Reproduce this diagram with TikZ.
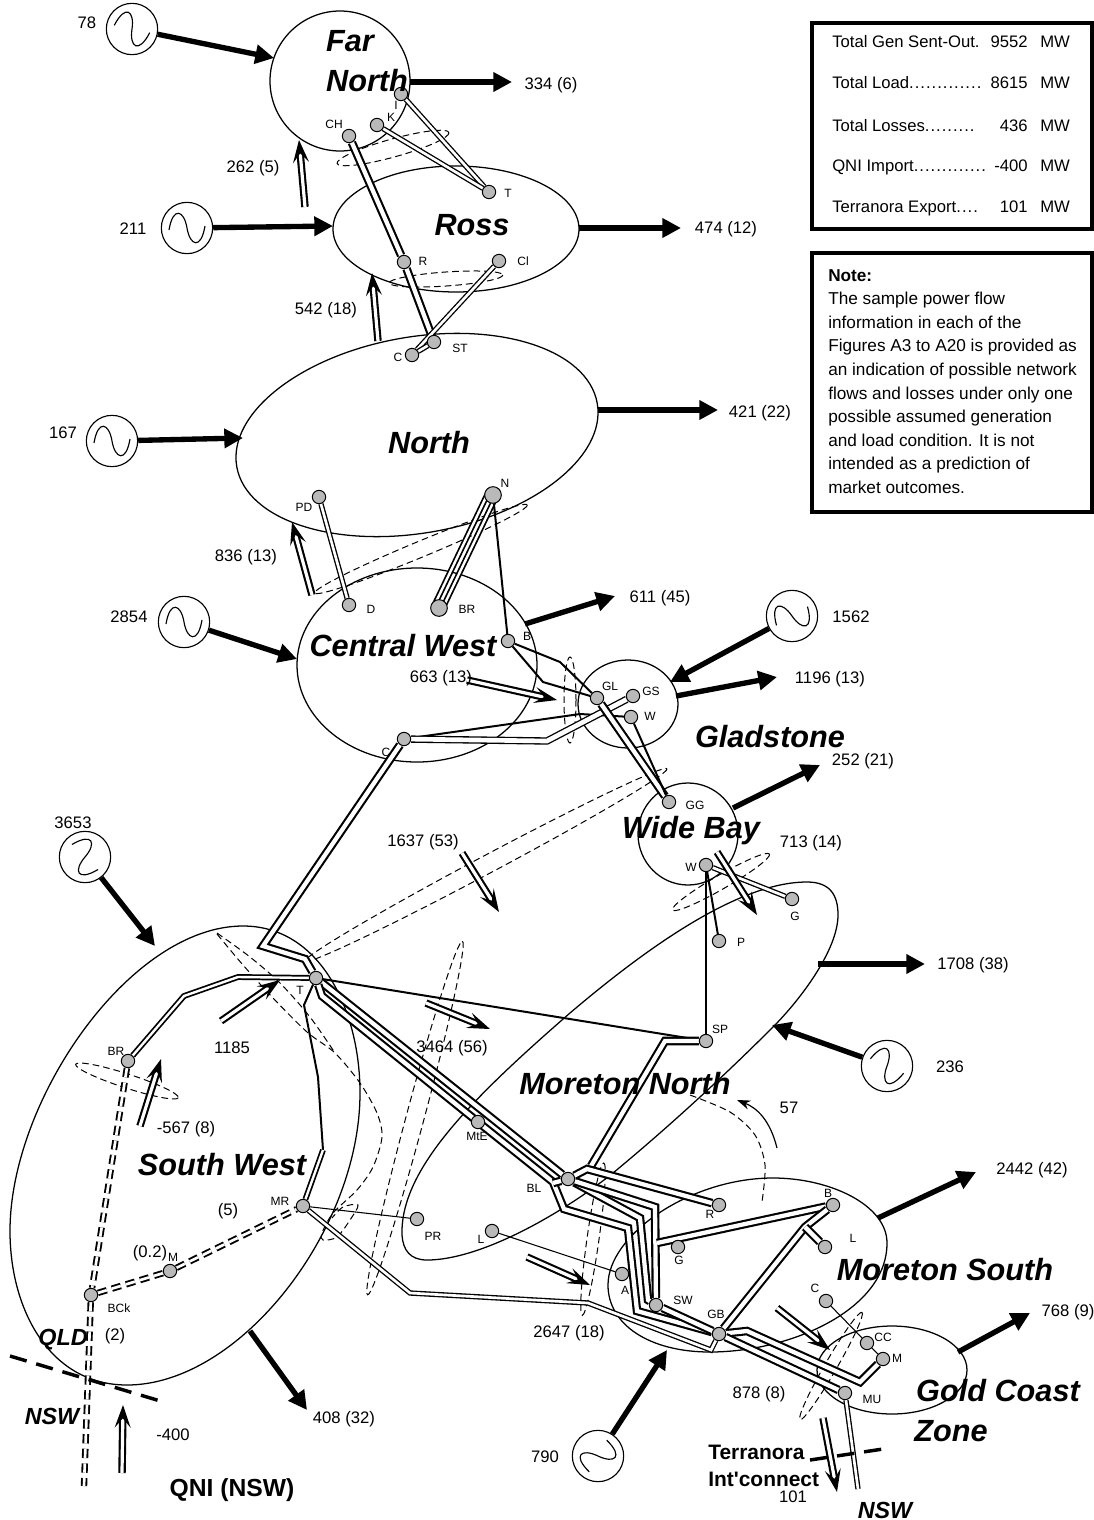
\documentclass[tikz,border=0pt]{standalone}
\usepackage{fontspec}
\setmainfont{Liberation Sans}
\newfontface\dotface[LetterSpace=6]{Liberation Sans}
\usetikzlibrary{arrows.meta, backgrounds, calc}

\tikzset{
  region/.style={line width=0.95pt},
  cutline/.style={line width=0.75pt, dash pattern=on 5pt off 3pt},
  bus/.style={circle, draw, fill=gray!55, line width=0.75pt, minimum size=10pt, inner sep=0pt},
  single/.style={line width=1.5pt},
  thinline/.style={line width=0.8pt},
  dblthick/.style={double, line width=1.6pt, double distance=3.2pt},
  dblmid/.style={double, line width=1.3pt, double distance=1.8pt},
  dblthin/.style={double, line width=1pt, double distance=2pt},
  dbldash/.style={double, line width=1.4pt, double distance=2pt, dash pattern=on 7pt off 4pt},
  border/.style={line width=2.6pt, dash pattern=on 13pt off 7.5pt},
  power/.style={line width=4pt, -{Triangle[length=14pt,width=14pt]}},
  flow/.style={double, line width=1.6pt, double distance=2.4pt, -{Stealth[length=17pt,width=12pt,inset=7pt]}},
  gen/.style={circle, draw, line width=0.85pt, inner sep=0pt},
  tag/.style={font=\fontsize{9}{11}\selectfont},
  value/.style={font=\fontsize{12.5}{15}\selectfont},
  zone/.style={font=\fontsize{23}{27}\selectfont\bfseries\itshape},
  state/.style={font=\fontsize{17.5}{21}\selectfont\bfseries\itshape},
  infobox/.style={line width=2.6pt}
}

\begin{document}
\begin{tikzpicture}[x=0.75pt, y=-0.75pt]
  \useasboundingbox (0,0) rectangle (1093,1520);

  % buses
  \foreach \name/\x/\y/\lab/\lx/\ly in {
      fnCH/349/136/CH/334/124, fnI/401/94/I/396/105, fnK/377/125/K/391/117,
      rsT/489/192/T/508/193, rsR/404/262/R/423/261, rsCl/499/261/Cl/523/261,
      nST/434/342/ST/460/348, nC/412/355/C/398/357, nPD/319/497/PD/304/507,
      cwD/349/605/D/371/609, cwB/508/641/B/527/636, cwC/404/739/C/386/752,
      glGL/597/698/GL/610/686, glGS/633/696/GS/651/691, glW/631/717/W/650/716,
      wbGG/669/802/GG/695/805, wbW/706/865/W/691/867,
      mnG/792/899/G/795/916, mnP/719/941/P/741/942, mnSP/706/1041/SP/720/1029,
      mnMtE/478/1122/MtE/477/1136, mnBL/568/1179/BL/534/1188,
      mnPR/417/1219/PR/433/1236, mnL/492/1231/L/481/1239,
      msR/719/1205/R/710/1214, msB/833/1205/B/828/1193, msL/825/1247/L/853/1238,
      msG/678/1247/G/679/1260, msA/622/1274/A/625/1290, msSW/656/1305/SW/683/1300,
      msGB/719/1334/GB/716/1314, msC/826/1301/C/815/1288,
      gcCC/867/1343/CC/883/1337, gcM/883/1359/M/897/1358, gcMU/845/1393/MU/872/1399,
      swT/316/978/T/300/990, swBR/128/1061/BR/116/1051, swBCk/91/1295/BCk/119/1308,
      swM/170/1271/M/173/1257, swMR/303/1206/MR/280/1201} {
    \node[bus] (\name) at (\x,\y) {};
    \node[tag] (\name lab) at (\lx,\ly) {\lab};
  }
  \node[bus, minimum size=12.5pt] (nN) at (493,495) {};
  \node[tag] (nNlab) at (505,483) {N};
  \node[bus, minimum size=12.5pt] (cwBR) at (439,608) {};
  \node[tag] (cwBRlab) at (467,609) {BR};

  \begin{pgfonlayer}{background}
    % regions
    \foreach \cx/\cy/\rx/\ry/\rot in {340/81/70/70/0, 456/229/123/63/0, 417/435/183/98/10,
        417/665/120/97/0, 628/704/50/44/0, 688/834/50/51/0, 892/1370/75/44/0} {
      \draw[region, shift={(\cx,\cy)}, rotate=\rot] (0,0) ellipse [x radius=\rx, y radius=\ry];
    }
    \draw[region] (10,1231) .. controls (10,1100) and (130,926) .. (243,926)
        .. controls (320,926) and (360,1010) .. (360,1093)
        .. controls (360,1230) and (240,1385) .. (127,1385)
        .. controls (50,1385) and (10,1310) .. cycle;
    \draw[region] (402,1235) .. controls (400,1170) and (470,1100) .. (570,1013)
        .. controls (650,945) and (740,882) .. (807,882)
        .. controls (830,882) and (838,895) .. (838,915)
        .. controls (838,950) and (800,1000) .. (773,1027)
        .. controls (720,1080) and (665,1130) .. (613,1173)
        .. controls (560,1215) and (480,1260) .. (427,1260)
        .. controls (410,1260) and (403,1250) .. cycle;
    \draw[region] (608,1285) .. controls (608,1235) and (690,1178) .. (773,1178)
        .. controls (830,1178) and (887,1205) .. (887,1243)
        .. controls (887,1310) and (790,1352) .. (710,1352)
        .. controls (650,1352) and (608,1325) .. cycle;

    % cut sets
    \foreach \cx/\cy/\rx/\ry/\rot in {393/148/58/9/15.5, 446/279/57/7/4, 421/549/115/8/22.5,
        570/700/6/43/0, 486/865/205/9/28, 721/882/56/7/30, 415/1118/183/9/75,
        127/1081/54/7/-18, 593/1239/77/6/82, 831/1366/62/6/60} {
      \draw[cutline, shift={(\cx,\cy)}, rotate=\rot] (0,0) ellipse [x radius=\rx, y radius=\ry];
    }
    \draw[cutline] plot[smooth] coordinates {(217,933) (250,957) (280,983) (310,1017) (335,1053)};
    \draw[cutline] plot[smooth] coordinates {(217,934) (243,965) (273,998) (307,1032) (335,1053) (360,1083)
        (377,1113) (382,1137) (373,1167) (357,1190) (333,1213) (322,1233) (323,1240) (337,1237)
        (350,1220) (358,1205) (343,1207) (332,1218)};
    \draw[cutline] plot[smooth] coordinates {(690,1095) (730,1112) (755,1135) (765,1165) (762,1202)};

    % lines
    \draw[dblthick] (fnCH) -- (rsR);
    \draw[dblthick] (rsR) -- (nST);
    \draw[dblthin] (fnI) -- (rsT);
    \draw[dblthin] (fnK) -- (rsT);
    \draw[dblthin] (rsCl) -- (nC);
    \draw[dblthin] (nC) -- (nST);
    \draw[dblthin] (nPD) -- (cwD);
    \draw[dblmid] ($(nN)+(-5,-2)$) -- ($(cwBR)+(-5,-2)$);
    \draw[dblmid] ($(nN)+(3,1.5)$) -- ($(cwBR)+(3,1.5)$);
    \draw[single] (nN) -- (cwB);
    \draw[single] (cwB) -- (560,662) -- (glGL);
    \draw[single] (cwB) -- (543,682) -- (glGL);
    \draw[single] (cwC) -- (580,714) -- (glW);
    \draw[dblthin, double distance=3.5pt] (cwC) -- (547,741) -- (glGS);
    \draw[dblthick] (glGL) -- (wbGG);
    \draw[single] (glW) -- (wbGG);
    \draw[dblthick] (cwC) -- (263,946) -- (305,959) -- (swT);
    \draw[dblmid] (swT) -- (238,977) -- (184,996) -- (swBR);
    \draw[single] (swT) -- (304,1005) -- (318,1077) -- (323,1150);
    \draw[dblmid] (323,1150) -- (swMR);
    \draw[single] (swT) -- (mnSP);
    \draw[single] (wbW) -- (mnSP);
    \draw[single] (wbW) -- (mnP);
    \draw[dblthin] (wbW) -- (mnG);
    \draw[thinline] (swMR) -- (mnPR);
    \draw[thinline] (mnL) -- (msA);
    \draw[thinline] (msC) -- (gcCC);
    \draw[thinline] (gcCC) -- (gcM);
    \draw[dblthick] (swT) -- (mnBL);
    \draw[dblthick] (swT) -- (322,996) -- (mnMtE.center) -- (553,1182) -- (564,1209) -- (628,1228) -- (637,1311) -- (msGB);
    \draw[dblthick] (mnBL) -- (553,1183);
    \draw[dblthick] (mnBL) -- (640,1218) -- (648,1300) -- (msSW);
    \draw[dblthick] (mnBL) -- (655,1207) -- (msSW);
    \draw[dblthick] (mnSP) -- (665,1041) -- (591,1166);
    \draw[dblthick] (mnBL) -- (587,1169) -- (msR);
    \draw[dblthick] (msB) -- (657,1243);
    \draw[dblthick] (msSW) -- (msGB);
    \draw[dblthin] (swMR) -- (410,1293) -- (588,1303) -- (711,1350) -- (msGB);
    \draw[dblthick] (msGB) -- (805,1227) -- (msB);
    \draw[dblthick] (805,1227) -- (msL);
    \draw[dblthick] (msGB) -- (747,1331) -- (860,1382) -- (gcM);
    \draw[dblthick] (msGB) -- (gcMU);
    \draw[dblthin] (gcMU) -- (858,1489);
    \draw[dbldash] (swBR) -- (swBCk);
    \draw[dbldash] (swBCk) -- (swM);
    \draw[dbldash] (swM) -- (swMR);
    \draw[dbldash] (swBCk) -- (84,1486);
    \draw[border] (10,1356) -- (167,1403);
    \draw[border] (810,1460) -- (883,1449);
  \end{pgfonlayer}

  % generators
  \foreach \name/\x/\y/\rot in {genA/132/29/-18, genB/187/228/0, genC/112/441/0,
      genD/184/622/0, genE/792/616/25, genF/85/857/-50, genG/887/1066/-30, genH/598/1456/55} {
    \node[gen, minimum size=38.5pt] (\name) at (\x,\y) {};
    \draw[line width=0.85pt, shift={(\x,\y)}, rotate=\rot] (-18,2) .. controls (-14,-22) and (-3,-18) .. (0,0)
        .. controls (3,18) and (14,22) .. (18,-2);
  }
  \draw[power] (genA) -- (274,58);
  \draw[power] (genB) -- (333,226);
  \draw[power] (genC) -- (243,438);
  \draw[power] (genD) -- (297,659);
  \draw[power] (genE) -- (670,682);
  \draw[power] (genF) -- (155,946);
  \draw[power] (genG) -- (772,1025);
  \draw[power] (genH) -- (667,1350);

  % loads
  \foreach \ax/\ay/\bx/\by [count=\n] in {410/82/512/82, 579/228/681/228, 598/410/718/410, 525/624/615/596,
      676/696/777/677, 733/808/820/765, 818/964/925/964, 878/1218/976/1172, 958/1352/1030/1313, 250/1331/307/1410} {
    \coordinate (loadA\n) at (\ax,\ay);
    \coordinate (loadB\n) at (\bx,\by);
    \draw[power] (loadA\n) -- (loadB\n);
  }

  % flows
  \foreach \ax/\ay/\bx/\by [count=\n] in {305/207/299/140, 378/341/372/273, 312/595/292/522, 467/680/557/700,
      462/853/499/912, 717/852/757/915, 426/1003/490/1029, 221/1021/280/980, 140/1126/161/1059,
      122/1473/123/1405, 527/1257/590/1285, 777/1308/830/1350, 823/1418/837/1492} {
    \coordinate (flowA\n) at (\ax,\ay);
    \coordinate (flowB\n) at (\bx,\by);
    \draw[flow] (flowA\n) -- (flowB\n);
  }
  \draw[line width=0.9pt, -{Stealth[length=10pt,width=7pt]}] (777,1148) .. controls (770,1120) and (757,1108) .. (737,1100);

  % values
  \foreach \x/\y/\lab [count=\n] in {87/23/78, 551/85/334 (6), 253/168/262 (5), 133/229/211, 726/229/474 (12),
      326/310/542 (18), 63/433/167, 760/413/421 (22), 246/557/836 (13), 129/617/2854, 660/598/611 (45),
      851/617/1562, 441/678/663 (13), 830/679/1196 (13), 863/761/252 (21), 73/823/3653, 423/842/1637 (53),
      811/843/713 (14), 973/965/1708 (38), 950/1067/236, 232/1048/1185, 452/1048/3464 (56), 789/1108/57,
      186/1129/-567 (8), 1032/1170/2442 (42), 228/1211/(5), 150/1253/(0.2), 569/1333/2647 (18), 115/1336/(2),
      759/1394/878 (8), 1068/1312/768 (9), 344/1419/408 (32), 173/1435/-400, 545/1457/790, 793/1497/101} {
    \node[value] (val\n) at (\x,\y) {\lab};
  }

  % zones
  \foreach \x/\y/\lab [count=\n] in {350/41/Far, 367/81/North, 472/225/Ross, 429/443/North, 403/646/Central West,
      770/737/Gladstone, 691/831/Wide Bay, 625/1084/Moreton North, 222/1165/South West, 945/1270/Moreton South,
      998/1391/Gold Coast, 951/1431/Zone} {
    \node[zone] (zone\n) at (\x,\y) {\lab};
  }
  \node[state] (qld) at (63,1340) {QLD};
  \node[state] (nswA) at (52,1416) {NSW};
  \node[state] (nswB) at (885,1510) {NSW};
  \node[font=\fontsize{15.7}{19}\selectfont\bfseries, anchor=west, inner sep=0pt] (terraA) at (708,1452) {Terranora};
  \node[font=\fontsize{15.7}{19}\selectfont\bfseries, anchor=west, inner sep=0pt] (terraB) at (708,1479) {Int\textquotesingle connect};
  \node[font=\fontsize{18.5}{22}\selectfont\bfseries] (qni) at (232,1490) {QNI (NSW)};

  % totals
  \draw[infobox] (812,23) rectangle (1092,229);
  \foreach \y/\lab/\val in {48/Total Gen Sent-Out./9552, 89/Total Load{\dotface.............}/8615,
      131/Total Losses{\dotface.........}/436, 171/QNI Import{\dotface.............}/-400,
      212/Terranora Export{\dotface....}/101} {
    \node[value, anchor=base west, inner sep=0pt] (tot\y) at (832,\y) {\lab};
    \node[value, anchor=base east, inner sep=0pt] (num\y) at (1028,\y) {\val};
    \node[value, anchor=base west, inner sep=0pt] (unit\y) at (1040,\y) {MW};
  }

  % note
  \draw[infobox] (812,253) rectangle (1092,512);
  \node[anchor=north west, inner sep=0pt, align=left, font=\fontsize{12.9}{17.7}\selectfont] (note) at (828,269)
    {{\bfseries Note:}\\The sample power flow\\information in each of the\\Figures A3 to A20 is provided as\\an indication of possible network\\flows and losses under only one\\possible assumed generation\\and load condition. It is not\\intended as a prediction of\\market outcomes.};
\end{tikzpicture}
\end{document}
